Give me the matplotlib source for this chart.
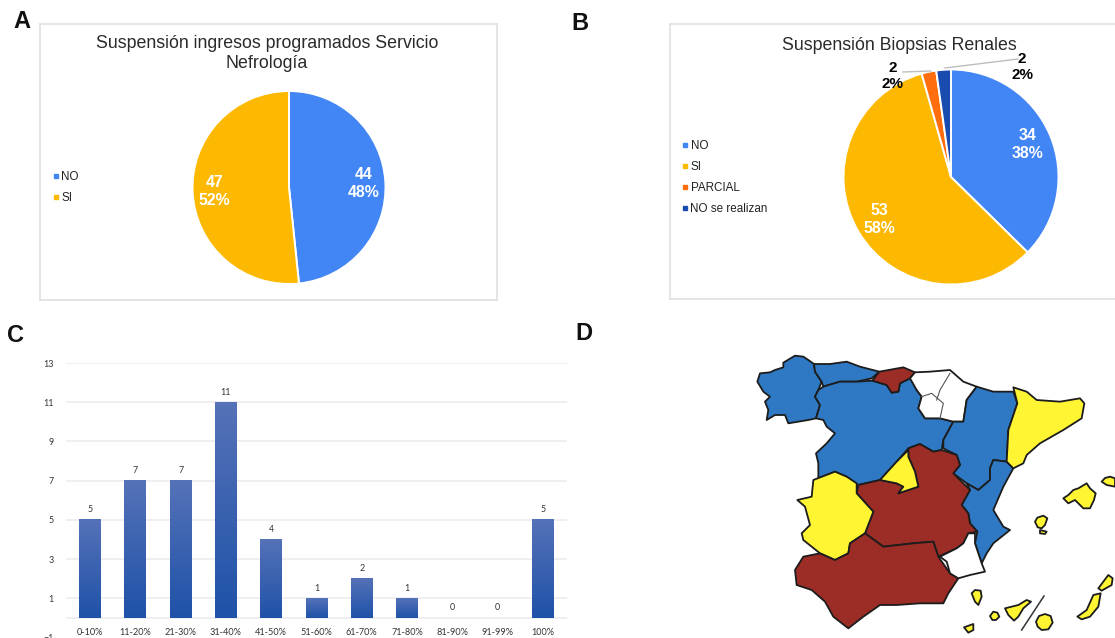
import matplotlib
matplotlib.use("Agg")
import matplotlib.pyplot as plt
import numpy as np
from matplotlib.lines import Line2D
from matplotlib.patches import Polygon

W, H = 1115, 638

# panel A
a_labels = ["NO", "SI"]
a_values = [44, 47]
a_pcts = [48, 52]
# panel B
b_labels = ["NO", "SI", "PARCIAL", "NO se realizan"]
b_values = [34, 53, 2, 2]
b_pcts = [38, 58, 2, 2]
# panel C
c_cats = ["0-10%", "11-20%", "21-30%", "31-40%", "41-50%", "51-60%",
          "61-70%", "71-80%", "81-90%", "91-99%", "100%"]
c_values = [5, 7, 7, 11, 4, 1, 2, 1, 0, 0, 5]
c_ticks = [-1, 1, 3, 5, 7, 9, 11, 13]

galicia = [(52,125),(60,100),(90,97),(105,90),(130,82),(130,68),(165,47),(190,50),(205,60),(222,72),(225,95),(245,125),(235,150),(225,170),(240,195),(228,235),(205,240),(175,245),(145,250),(135,225),(105,225),(80,240),(85,210),(75,185),(90,170),(70,155)]
asturias = [(222,72),(270,72),(320,65),(360,80),(418,95),(395,115),(350,125),(300,125),(250,140),(245,125),(225,95)]
cantabria = [(418,95),(490,82),(525,97),(510,115),(480,130),(475,155),(455,158),(440,135),(397,122)]
castilla_leon = [(250,140),(300,125),(350,125),(397,122),(440,135),(455,158),(475,155),(480,130),(510,115),(520,130),(530,150),(545,170),(535,205),(555,235),(600,235),(640,245),(610,300),(605,330),(580,335),(540,312),(505,325),(470,365),(420,420),(355,435),(320,410),(285,395),(235,415),(235,370),(228,340),(260,310),(285,280),(260,260),(250,240),(228,235),(240,195),(225,170),(235,150)]
norte = [(525,97),(570,95),(630,90),(670,125),(710,140),(680,180),(670,245),(640,245),(600,235),(555,235),(535,205),(545,170),(530,150),(510,115)]
aragon = [(710,140),(760,155),(820,155),(832,190),(805,270),(800,365),(760,360),(750,385),(750,420),(715,450),(680,430),(640,400),(660,375),(650,345),(610,325),(610,300),(640,245),(670,245),(680,180)]
cataluna = [(820,142),(860,155),(890,180),(960,185),(1020,175),(1033,190),(1025,235),(970,270),(900,310),(860,345),(850,370),(820,385),(800,365),(805,270),(832,190)]
valencia = [(760,360),(800,365),(820,385),(790,440),(760,510),(790,560),(810,570),(760,610),(740,640),(725,670),(705,610),(712,575),(690,550),(685,520),(665,495),(690,450),(680,430),(715,450),(750,420),(750,385)]
mancha = [(505,325),(540,312),(580,335),(605,330),(650,345),(660,375),(640,400),(690,450),(665,495),(685,520),(690,550),(712,575),(685,580),(670,610),(650,625),(595,650),(580,605),(520,610),(430,620),(375,580),(400,515),(350,460),(355,435),(420,420),(470,430),(490,440),(475,460),(535,440),(525,395),(505,350)]
madrid = [(505,330),(505,350),(525,395),(535,440),(475,460),(490,440),(470,430),(420,420),(470,365)]
extremadura = [(220,420),(285,395),(320,410),(350,430),(350,460),(400,515),(375,580),(330,610),(325,640),(285,660),(240,640),(190,600),(185,580),(210,555),(195,500),(172,480),(215,470)]
andalucia = [(190,650),(240,640),(285,660),(325,640),(330,610),(375,580),(430,620),(520,610),(580,605),(595,650),(630,700),(655,715),(625,760),(610,790),(540,790),(470,795),(420,795),(370,830),(325,865),(280,830),(255,785),(215,750),(170,735),(165,690)]
murcia = [(705,580),(705,610),(725,670),(735,695),(690,705),(655,715),(630,700),(620,665),(600,650),(650,625),(670,610),(685,580)]
mallorca = [(970,475),(985,465),(1000,450),(1015,445),(1040,430),(1050,445),(1067,460),(1062,480),(1050,505),(1030,505),(1015,490),(1005,480),(985,490)]
menorca = [(1085,425),(1095,414),(1110,410),(1125,415),(1125,440),(1100,435)]
ibiza = [(885,545),(892,533),(910,527),(922,535),(915,555),(905,565),(893,562)]
formentera = [(900,570),(920,575),(915,582),(900,580)]
lanzarote = [(1075,745),(1090,725),(1105,705),(1118,715),(1115,735),(1085,752)]
fuerteventura = [(1012,830),(1040,810),(1060,765),(1082,760),(1075,800),(1050,830),(1025,838)]
gran_canaria = [(888,845),(897,828),(915,822),(932,828),(938,848),(925,868),(905,870),(893,860)]
tenerife = [(795,805),(815,800),(835,795),(860,780),(873,785),(850,805),(835,830),(822,842),(805,825)]
gomera = [(750,828),(760,815),(772,818),(778,830),(768,840),(757,840)]
la_palma = [(695,760),(705,750),(722,752),(725,770),(715,795),(705,785)]
hierro = [(672,862),(700,852),(700,870),(685,878)]

BLUE = "#4285f4"
YELLOW = "#fdb902"
ORANGE = "#ff6d0d"
NAVY = "#1a4cb0"
MAP_BLUE = "#2f79c4"
MAP_RED = "#9c2c26"
MAP_YEL = "#fff533"

plt.rcParams["font.family"] = ["Liberation Sans", "DejaVu Sans"]
fig = plt.figure(figsize=(W / 100, H / 100), dpi=100)


def px_axes(x0, y0, x1, y1):
    # axes placed by its pixel box, y counted from the top
    return fig.add_axes([x0 / W, 1 - y1 / H, (x1 - x0) / W, (y1 - y0) / H])


def frame(x0, y0, x1, y1):
    ax = px_axes(x0, y0, x1, y1)
    ax.set_xticks([])
    ax.set_yticks([])
    for s in ax.spines.values():
        s.set_color("#dedede")
        s.set_linewidth(1.1)
    return ax


def legend(ax, labels, colors, x, y):
    handles = [Line2D([], [], ls="", marker="s", ms=2.6, color=c) for c in colors]
    ax.legend(handles, labels, loc="upper left", bbox_to_anchor=(x / W, 1 - y / H),
              bbox_transform=fig.transFigure, frameon=False, fontsize=8.4,
              labelspacing=0.78, handletextpad=0.0, handlelength=0.9,
              labelcolor="#222222", borderpad=0, borderaxespad=0)


def pie_labels(values, pcts):
    names = iter(zip(values, pcts))

    def fmt(_):
        v, p = next(names)
        return f"{v}\n{p}%" if v > 5 else ""
    return fmt


def pie(cx, cy, r, values, pcts, colors):
    ax = px_axes(cx - r, cy - r, cx + r, cy + r)
    wedges, _, autos = ax.pie(values, colors=colors, startangle=90, counterclock=False,
                              radius=1, autopct=pie_labels(values, pcts), pctdistance=0.77,
                              wedgeprops=dict(edgecolor="white", linewidth=1.4),
                              textprops=dict(color="white", fontweight="bold", fontsize=11.4))
    ax.set_xlim(-1, 1)
    ax.set_ylim(-1, 1)
    for t in autos:
        t.set_linespacing(1.25)
    return ax


# A
ax_a = frame(40, 24, 497, 300)
legend(ax_a, a_labels, [BLUE, YELLOW], 51, 171)
fig.text(267 / W, 1 - 53.5 / H, "Suspensión ingresos programados Servicio\nNefrología",
         ha="center", va="center", fontsize=12.75, color="#2a2a2a", linespacing=1.25)
pie(289, 187.5, 96.5, a_values, a_pcts, [BLUE, YELLOW])

# B
ax_b = frame(670, 24, 1130, 299)
legend(ax_b, b_labels, [BLUE, YELLOW, ORANGE, NAVY], 680, 140)
fig.text(899 / W, 1 - 45.5 / H, "Suspensión Biopsias Renales", ha="center", va="center",
         fontsize=12.75, color="#2a2a2a")
pie_b = pie(951, 177, 107.5, b_values, b_pcts, [BLUE, YELLOW, ORANGE, NAVY])
# small slices get outside labels with leader lines
small = [(2, (893, 76), (903, 72), (931, 71)), (3, (1022, 67), (1018, 59), (945, 68))]
for i, txt, a, b in small:
    fig.text(txt[0] / W, 1 - txt[1] / H, f"{b_values[i]}\n{b_pcts[i]}%", ha="center", va="center",
             fontsize=11, fontweight="bold", color="black", linespacing=1.25, zorder=5)
    fig.add_artist(Line2D([a[0] / W, b[0] / W], [1 - a[1] / H, 1 - b[1] / H],
                          color="#bdbdbd", lw=1))

# C
ax_c = px_axes(66, 363, 567, 637.6)
bars = ax_c.bar(range(len(c_cats)), c_values, width=0.48, color="#2b5cb4", zorder=2)
grad = np.linspace(0, 1, 64).reshape(-1, 1, 1) * np.array([[[0x1f - 0x55, 0x52 - 0x72, 0xa8 - 0xb8]]]) + np.array([[[0x55, 0x72, 0xb8]]])
for b in bars:
    if b.get_height() > 0:
        ax_c.imshow(grad / 255, extent=(b.get_x(), b.get_x() + b.get_width(), 0, b.get_height()),
                    aspect="auto", zorder=3)
ax_c.set_xlim(-0.53, 10.53)
ax_c.set_ylim(-1, 13)
ax_c.bar_label(bars, padding=4, fontsize=6.4, color="#333333", family="Lato")
ax_c.set_yticks(c_ticks)
ax_c.set_yticks([0], minor=True)
ax_c.grid(axis="y", which="both", color="#ecebf1", lw=1.2, zorder=0)
ax_c.get_ygridlines()[0].set_visible(False)
ax_c.tick_params(axis="both", which="both", length=0)
ax_c.tick_params(axis="y", pad=9, labelsize=6.4, labelcolor="#333333")
ax_c.set_xticks(range(len(c_cats)), c_cats, fontsize=6.6, color="#333333", family="Lato")
ax_c.tick_params(axis="x", direction="in", pad=-7)
for t in ax_c.get_yticklabels():
    t.set_family("Lato")
for s in ax_c.spines.values():
    s.set_visible(False)

# D
ax_d = px_axes(740, 340, 1115, 638)
ax_d.set_xlim(0, 1125)
ax_d.set_ylim(894, 0)
ax_d.axis("off")
regions = [(galicia, MAP_BLUE), (asturias, MAP_BLUE), (castilla_leon, MAP_BLUE), (cantabria, MAP_RED),
           (norte, "white"), (aragon, MAP_BLUE), (valencia, MAP_BLUE), (cataluna, MAP_YEL),
           (mancha, MAP_RED), (madrid, MAP_YEL), (extremadura, MAP_YEL), (andalucia, MAP_RED),
           (murcia, "white"), (mallorca, MAP_YEL), (menorca, MAP_YEL), (ibiza, MAP_YEL),
           (formentera, MAP_YEL), (lanzarote, MAP_YEL), (fuerteventura, MAP_YEL),
           (gran_canaria, MAP_YEL), (tenerife, MAP_YEL), (gomera, MAP_YEL), (la_palma, MAP_YEL),
           (hierro, MAP_YEL)]
for pts, col in regions:
    ax_d.add_patch(Polygon(pts, closed=True, facecolor=col, edgecolor="#1c1c1c", lw=1.3, joinstyle="round"))
ax_d.plot([845, 912], [870, 768], color="#333333", lw=1.1)
ax_d.plot([630, 600, 590], [100, 150, 180], color="#555555", lw=0.8)
ax_d.plot([545, 575, 610, 600], [170, 160, 190, 235], color="#555555", lw=0.8)

# panel letters
for letter, x, y in [("A", 22, 21), ("B", 580, 23), ("C", 15, 336), ("D", 584, 333)]:
    fig.text(x / W, 1 - y / H, letter, ha="center", va="center", fontsize=17,
             fontweight="bold", family="Liberation Sans", color="#111111")

fig.savefig("out.png", dpi=100)
